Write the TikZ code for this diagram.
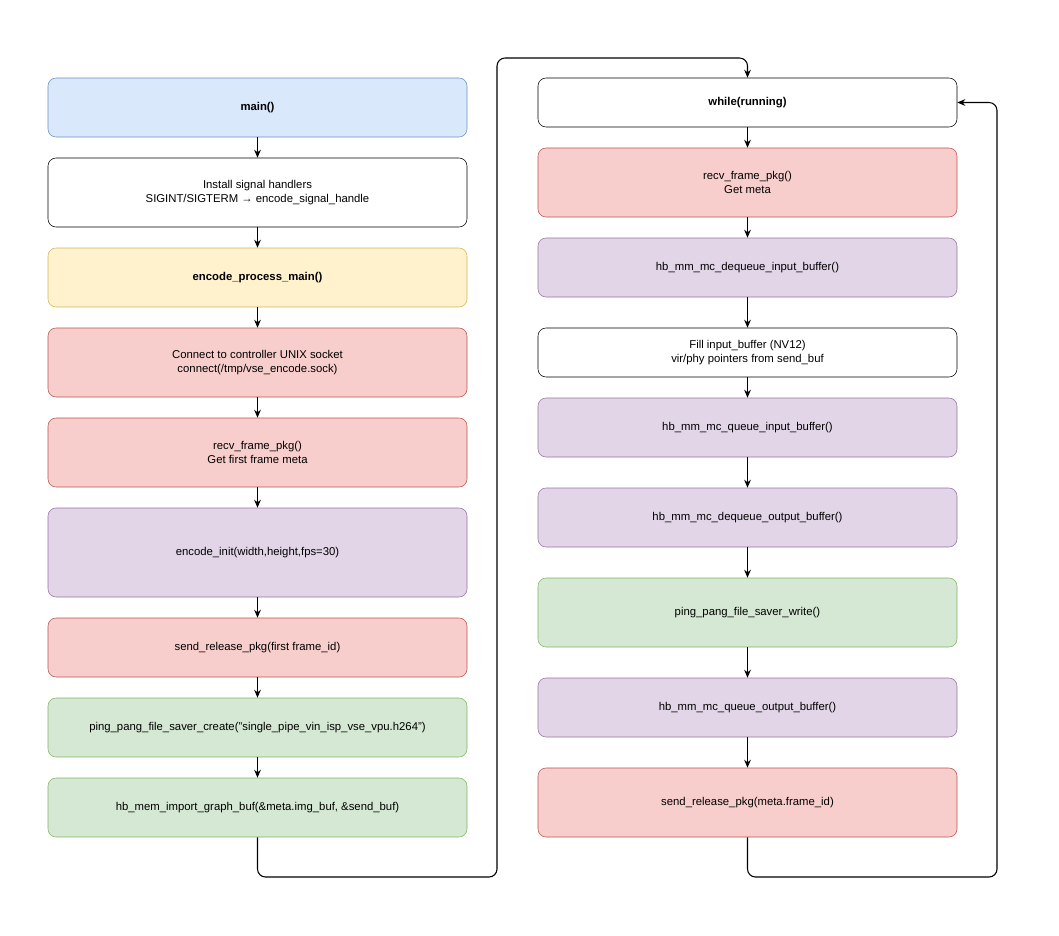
\documentclass[tikz,border=0pt]{standalone}
\usepackage{fontspec}
\setmainfont{Liberation Sans}
\usetikzlibrary{arrows.meta}
\definecolor{bF}{HTML}{DAE8FC}\definecolor{bD}{HTML}{6C8EBF}
\definecolor{yF}{HTML}{FFF2CC}\definecolor{yD}{HTML}{D6B656}
\definecolor{rF}{HTML}{F8CECC}\definecolor{rD}{HTML}{B85450}
\definecolor{pF}{HTML}{E1D5E7}\definecolor{pD}{HTML}{9673A6}
\definecolor{gF}{HTML}{D5E8D4}\definecolor{gD}{HTML}{82B366}
\begin{document}
\begin{tikzpicture}[x=0.75pt,y=-0.75pt,
 box/.style={draw,rounded corners=6pt,minimum width=419*0.75pt,align=center,font=\fontsize{8.5}{11}\selectfont,inner sep=0pt},
 bl/.style={fill=bF,draw=bD},yl/.style={fill=yF,draw=yD},rd/.style={fill=rF,draw=rD},
 pu/.style={fill=pF,draw=pD},gr/.style={fill=gF,draw=gD},wh/.style={fill=white,draw=black},
 arr/.style={-{Stealth[length=6pt,width=5pt]},line width=0.8pt},
 lp/.style={arr,rounded corners=6pt}]
\useasboundingbox (0,0) rectangle (1059,935);
\newcommand{\bx}[6]{\node[box,#2,minimum height=(#5-#4)*0.75pt] (#1) at (#3,{(#4+#5)/2}) {#6};}
\bx{m}{bl}{257.5}{78}{137}{\textbf{main()}}
\bx{sig}{wh}{257.5}{158}{227}{Install signal handlers\\SIGINT/SIGTERM → encode\_signal\_handle}
\bx{epm}{yl}{257.5}{248}{307}{\textbf{encode\_process\_main()}}
\bx{con}{rd}{257.5}{328}{397}{Connect to controller UNIX socket\\connect(/tmp/vse\_encode.sock)}
\bx{rf}{rd}{257.5}{418}{487}{recv\_frame\_pkg()\\Get first frame meta}
\bx{ei}{pu}{257.5}{508}{597}{encode\_init(width,height,fps=30)}
\bx{sr}{rd}{257.5}{618}{677}{send\_release\_pkg(first frame\_id)}
\bx{pc}{gr}{257.5}{698}{757}{ping\_pang\_file\_saver\_create("single\_pipe\_vin\_isp\_vse\_vpu.h264")}
\bx{hi}{gr}{257.5}{778}{837}{hb\_mem\_import\_graph\_buf(\&meta.img\_buf, \&send\_buf)}
\bx{wr}{wh}{747.5}{78}{127}{\textbf{while(running)}}
\bx{r2}{rd}{747.5}{148}{217}{recv\_frame\_pkg()\\Get meta}
\bx{dq}{pu}{747.5}{238}{297}{hb\_mm\_mc\_dequeue\_input\_buffer()}
\bx{fi}{wh}{747.5}{328}{377}{Fill input\_buffer (NV12)\\vir/phy pointers from send\_buf}
\bx{qi}{pu}{747.5}{398}{457}{hb\_mm\_mc\_queue\_input\_buffer()}
\bx{dqo}{pu}{747.5}{488}{547}{hb\_mm\_mc\_dequeue\_output\_buffer()}
\bx{pw}{gr}{747.5}{578}{647}{ping\_pang\_file\_saver\_write()}
\bx{qo}{pu}{747.5}{678}{737}{hb\_mm\_mc\_queue\_output\_buffer()}
\bx{s2}{rd}{747.5}{768}{837}{send\_release\_pkg(meta.frame\_id)}
\foreach \a/\b in {m/sig,sig/epm,epm/con,con/rf,rf/ei,ei/sr,sr/pc,pc/hi,wr/r2,r2/dq,dq/fi,fi/qi,qi/dqo,dqo/pw,pw/qo,qo/s2}
 \draw[arr] (\a) -- (\b);
\coordinate (c1) at (257.5,877);\coordinate (c2) at (497,877);\coordinate (c3) at (497,58);\coordinate (c4) at (747.5,58);
\draw[lp] (hi.south) -- (c1) -- (c2) -- (c3) -- (c4) -- (wr.north);
\coordinate (d1) at (747.5,877);\coordinate (d2) at (997,877);\coordinate (d3) at (997,102.5);
\draw[lp] (s2.south) -- (d1) -- (d2) -- (d3) -- (wr.east);
\end{tikzpicture}
\end{document}
